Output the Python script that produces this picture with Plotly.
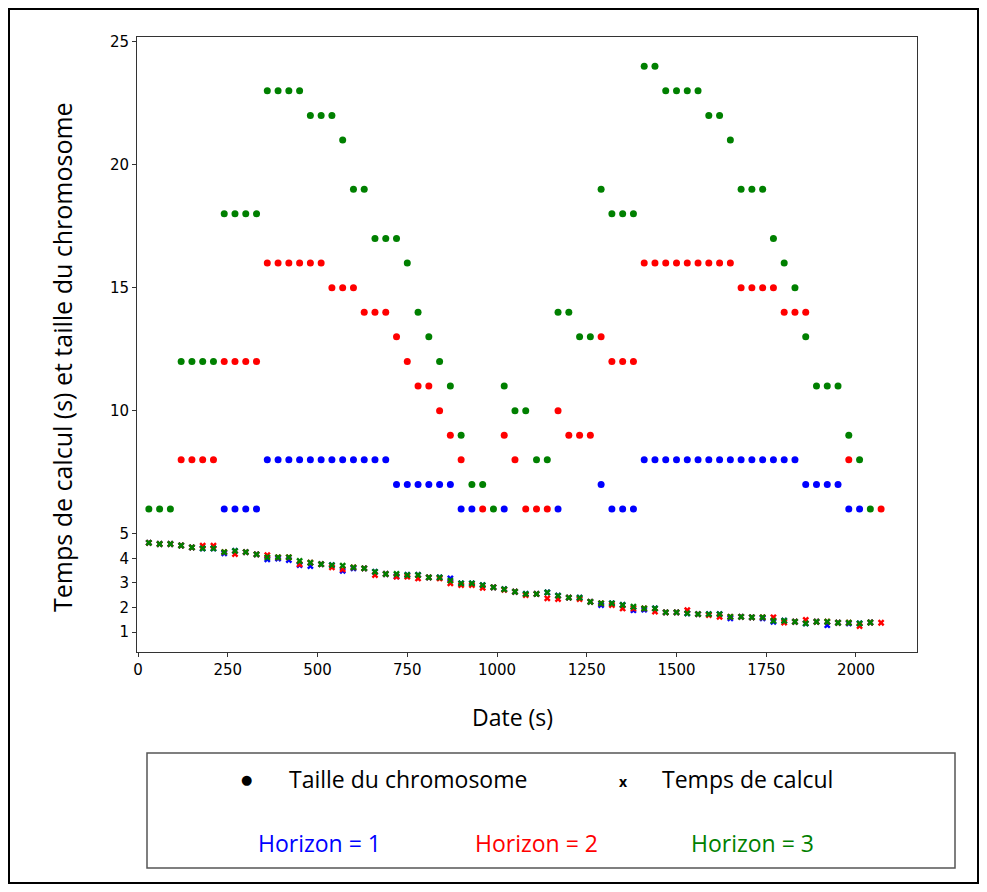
import plotly.graph_objects as go

# ---------------- data ----------------
dates = [30, 60, 90, 120, 150, 180, 210, 240, 270, 300,
         330, 360, 390, 420, 450, 480, 510, 540, 570, 600,
         630, 660, 690, 720, 750, 780, 810, 840, 870, 900,
         930, 960, 990, 1020, 1050, 1080, 1110, 1140, 1170, 1200,
         1230, 1260, 1290, 1320, 1350, 1380, 1410, 1440, 1470, 1500,
         1530, 1560, 1590, 1620, 1650, 1680, 1710, 1740, 1770, 1800,
         1830, 1860, 1890, 1920, 1950, 1980, 2010, 2040, 2070]

N = None
size_h1 = [N, N, N, N, N, N, N, 6, 6, 6,
           6, 8, 8, 8, 8, 8, 8, 8, 8, 8,
           8, 8, 8, 7, 7, 7, 7, 7, 7, 6,
           6, N, N, 6, N, N, N, N, 6, N,
           N, N, 7, 6, 6, 6, 8, 8, 8, 8,
           8, 8, 8, 8, 8, 8, 8, 8, 8, 8,
           8, 7, 7, 7, 7, 6, 6, N, N]
size_h2 = [N, N, N, 8, 8, 8, 8, 12, 12, 12,
           12, 16, 16, 16, 16, 16, 16, 15, 15, 15,
           14, 14, 14, 13, 12, 11, 11, 10, 9, 8,
           N, 6, N, 9, 8, 6, 6, 6, 10, 9,
           9, 9, 13, 12, 12, 12, 16, 16, 16, 16,
           16, 16, 16, 16, 16, 15, 15, 15, 15, 14,
           14, 14, N, N, N, 8, N, N, 6]
size_h3 = [6, 6, 6, 12, 12, 12, 12, 18, 18, 18,
           18, 23, 23, 23, 23, 22, 22, 22, 21, 19,
           19, 17, 17, 17, 16, 14, 13, 12, 11, 9,
           7, 7, 6, 11, 10, 10, 8, 8, 14, 14,
           13, 13, 19, 18, 18, 18, 24, 24, 23, 23,
           23, 23, 22, 22, 21, 19, 19, 19, 17, 16,
           15, 13, 11, 11, 11, 9, 8, 6, N]

time_h1 = [4.63, 4.58, 4.58, 4.52, 4.44, 4.40, 4.40, 4.20, 4.30, 4.25,
           4.16, 3.96, 3.99, 3.93, 3.72, 3.68, 3.76, 3.72, 3.49, 3.59,
           3.59, 3.45, 3.36, 3.27, 3.32, 3.32, 3.22, 3.22, 3.18, 2.98,
           2.98, 2.91, 2.82, 2.74, 2.64, 2.55, 2.55, 2.61, 2.48, 2.40,
           2.40, 2.23, 2.10, 2.17, 2.10, 1.89, 1.91, 1.96, 1.80, 1.80,
           1.76, 1.73, 1.73, 1.73, 1.56, 1.62, 1.60, 1.56, 1.42, 1.46,
           1.42, 1.35, 1.42, 1.28, 1.38, 1.35, 1.35, 1.39, N]
time_h2 = [4.63, 4.58, 4.58, 4.52, 4.44, 4.51, 4.51, 4.25, 4.17, 4.25,
           4.16, 4.13, 4.04, 4.04, 3.76, 3.82, 3.76, 3.63, 3.55, 3.63,
           3.59, 3.32, 3.36, 3.25, 3.25, 3.18, 3.22, 3.18, 2.98, 2.91,
           2.91, 2.80, 2.82, 2.72, 2.64, 2.50, 2.55, 2.37, 2.34, 2.40,
           2.34, 2.23, 2.17, 2.10, 1.96, 1.96, 1.96, 1.83, 1.80, 1.80,
           1.89, 1.73, 1.69, 1.62, 1.62, 1.62, 1.60, 1.60, 1.60, 1.39,
           1.42, 1.49, 1.42, 1.42, 1.38, 1.38, 1.24, 1.39, 1.38]
time_h3 = [4.63, 4.58, 4.58, 4.52, 4.44, 4.40, 4.40, 4.25, 4.30, 4.25,
           4.16, 4.04, 4.04, 4.04, 3.89, 3.82, 3.76, 3.72, 3.70, 3.63,
           3.59, 3.45, 3.36, 3.36, 3.32, 3.32, 3.22, 3.22, 3.09, 2.98,
           2.98, 2.91, 2.82, 2.74, 2.64, 2.55, 2.55, 2.61, 2.48, 2.40,
           2.40, 2.23, 2.17, 2.17, 2.10, 2.03, 1.96, 1.96, 1.80, 1.80,
           1.76, 1.73, 1.73, 1.73, 1.62, 1.62, 1.60, 1.60, 1.46, 1.46,
           1.42, 1.35, 1.42, 1.42, 1.38, 1.38, 1.35, 1.39, N]

horizon_labels = ["Horizon = 1", "Horizon = 2", "Horizon = 3"]
horizon_colors = ["#0000ff", "#ff0000", "#008000"]
x_ticks = [0, 250, 500, 750, 1000, 1250, 1500, 1750, 2000]
y_ticks = [1, 2, 3, 4, 5, 10, 15, 20, 25]
legend_marker_labels = ["Taille du chromosome", "Temps de calcul"]

# ---------------- figure ----------------
fig = go.Figure()
sizes = [size_h1, size_h2, size_h3]
times = [time_h1, time_h2, time_h3]
for s, c in zip(sizes, horizon_colors):
    fig.add_trace(go.Scatter(x=dates, y=s, mode="markers",
                             marker=dict(symbol="circle", size=7, color=c),
                             showlegend=False))
for t, c in zip(times, horizon_colors):
    fig.add_trace(go.Scatter(x=dates, y=t, mode="markers",
                             marker=dict(symbol="x", size=6, color=c),
                             showlegend=False))

# page offset of the plot div (browser default body margin)
OFF = 8
W, H = 971, 876
L, T = 137 - OFF, 37 - OFF
R = W - (917 - OFF)
B = H - (652 - OFF)
pw, ph = W - L - R, H - T - B


def px(xp):
    return (xp - OFF - L) / pw


def py(yp):
    return (H - B - (yp - OFF)) / ph


axis_common = dict(showgrid=False, zeroline=False, showline=True, mirror=True,
                   linecolor="#333333", linewidth=1, ticks="outside",
                   ticklen=4, tickcolor="#333333",
                   tickfont=dict(family="DejaVu Sans", size=15, color="#000"))
fig.update_xaxes(range=[-3, 2170], tickvals=x_ticks,
                 ticktext=[str(v) for v in x_ticks], **axis_common)
fig.update_yaxes(range=[0.19, 25.19], tickvals=y_ticks,
                 ticktext=[str(v) for v in y_ticks], **axis_common)

tfont = "Open Sans"


def ann(text, xp, yp, size, color="#000", xanchor="center", family=tfont, angle=0):
    return dict(text=text, x=px(xp), y=py(yp), xref="paper", yref="paper",
                xanchor=xanchor, yanchor="middle", textangle=angle,
                showarrow=False, font=dict(family=family, size=size, color=color))


annotations = [
    ann("Date (s)", 512, 717, 23),
    ann("Temps de calcul (s) et taille du chromosome", 62, 357, 25, angle=-90),
    ann("●", 246, 780, 13, family="DejaVu Sans"),
    ann(legend_marker_labels[0], 287, 779, 23, xanchor="left"),
    ann("<b>x</b>", 623, 781, 14),
    ann(legend_marker_labels[1], 660, 779, 23, xanchor="left"),
]
for lab, col, cx in zip(horizon_labels, horizon_colors, [319, 536, 752]):
    annotations.append(ann(lab, cx, 843, 23, color=col))

shapes = [
    dict(type="rect", xref="paper", yref="paper", x0=px(9), x1=px(978),
         y0=py(883), y1=py(9), line=dict(color="#000", width=2)),
    dict(type="rect", xref="paper", yref="paper", x0=px(147), x1=px(955),
         y0=py(868), y1=py(753), line=dict(color="#555555", width=1.5)),
]

fig.update_layout(width=W, height=H, margin=dict(l=L, r=R, t=T, b=B),
                  paper_bgcolor="white", plot_bgcolor="white",
                  annotations=annotations, shapes=shapes)

fig.write_html("out.html")
